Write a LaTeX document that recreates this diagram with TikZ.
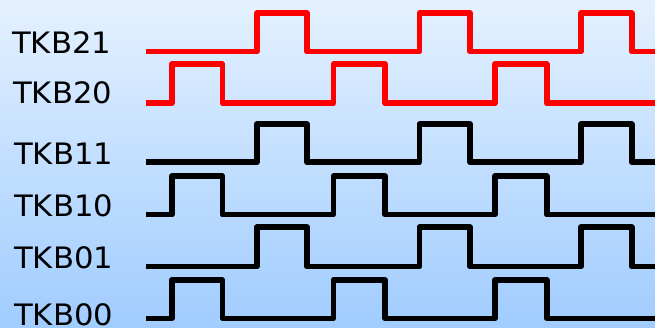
\documentclass[tikz,border=0pt]{standalone}
\usepackage{fontspec}
\setmainfont{DejaVu Sans}[FakeStretch=1.04]
\definecolor{bgtop}{RGB}{228,241,255}
\definecolor{bgbot}{RGB}{160,204,255}
\definecolor{sigred}{RGB}{255,0,0}
\newcommand{\waveA}[3]{% late pulses: style, lo, hi
  \draw[#1] (146,#2) -- (256.7,#2) -- (256.7,#3) -- (307,#3) -- (307,#2)
    -- (419.3,#2) -- (419.3,#3) -- (470,#3) -- (470,#2)
    -- (581,#2) -- (581,#3) -- (631.7,#3) -- (631.7,#2) -- (662,#2);}
\newcommand{\waveB}[3]{% early pulses: style, lo, hi
  \draw[#1] (146,#2) -- (171.7,#2) -- (171.7,#3) -- (222.3,#3) -- (222.3,#2)
    -- (333.3,#2) -- (333.3,#3) -- (385,#3) -- (385,#2)
    -- (495,#2) -- (495,#3) -- (546.7,#3) -- (546.7,#2) -- (662,#2);}
\begin{document}
\begin{tikzpicture}[x=1pt,y=-1pt,
  lbl/.style={anchor=base west,inner sep=0pt,font=\fontsize{29.5}{29.5}\selectfont,text=black},
  redwave/.style={draw=sigred,line width=5.6pt,line join=round},
  blackwave/.style={draw=black,line width=5.6pt,line join=round}]
  \clip (0,0) rectangle (655,328);
  \shade[top color=bgtop,bottom color=bgbot] (0,0) rectangle (655,328);
  \node[lbl] (l21) at (12,54) {TKB21};
  \node[lbl] (l20) at (13,104) {TKB20};
  \node[lbl] (l11) at (14,165) {TKB11};
  \node[lbl] (l10) at (14,217) {TKB10};
  \node[lbl] (l01) at (14,269) {TKB01};
  \node[lbl] (l00) at (14,325) {TKB00};
  \waveA{redwave}{51.7}{13.3}
  \waveB{redwave}{103.3}{64.3}
  \waveA{blackwave}{162.3}{124.3}
  \waveB{blackwave}{214.7}{176.3}
  \waveA{blackwave}{266.7}{227.3}
  \waveB{blackwave}{318.3}{280}
\end{tikzpicture}
\end{document}
